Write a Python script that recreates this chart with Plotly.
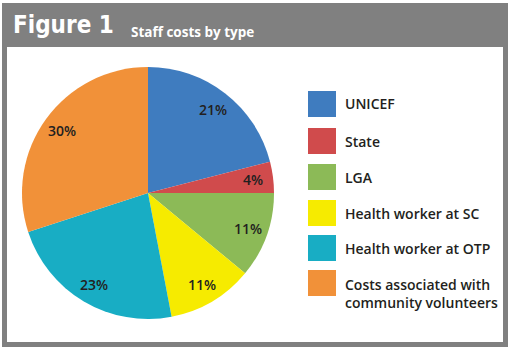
import math
import plotly.graph_objects as go

W, H = 514, 352

labels = ["UNICEF", "State", "LGA", "Health worker at SC", "Health worker at OTP",
          "Costs associated with<br>community volunteers"]
values = [21, 4, 11, 11, 23, 30]
colors = ["#3f7cbf", "#d04b4c", "#8cba57", "#f6eb00", "#18adc4", "#f19139"]

title_main = "Figure 1"
title_sub = "Staff costs by type"

GREY = "#808080"
TXT = "#231f20"


def px(x):
    return x / W


def py(y):
    return 1 - y / H


cx, cy, R = 148, 193, 126

fig = go.Figure()
fig.add_trace(go.Pie(
    labels=labels, values=values, sort=False, direction="clockwise", rotation=0,
    marker=dict(colors=colors, line=dict(width=0)),
    textinfo="none", hoverinfo="label+percent", showlegend=False,
    domain=dict(x=[px(cx - R), px(cx + R)], y=[py(cy + R), py(cy - R)]),
))

shapes = [
    dict(type="rect", xref="paper", yref="paper", x0=px(2), x1=px(508), y0=py(347), y1=py(3),
         fillcolor=GREY, line=dict(width=0), layer="below"),
    dict(type="rect", xref="paper", yref="paper", x0=px(7), x1=px(503), y0=py(342), y1=py(47),
         fillcolor="white", line=dict(width=0), layer="below"),
]
annotations = [
    dict(text=title_main, xref="paper", yref="paper", x=px(11), y=py(25), xanchor="left", yanchor="middle",
         showarrow=False, font=dict(family="DejaVu Sans Condensed, DejaVu Sans", size=24, color="white",
                                    weight="bold")),
    dict(text=title_sub, xref="paper", yref="paper", x=px(129), y=py(32), xanchor="left", yanchor="middle",
         showarrow=False, font=dict(family="Open Sans", size=13.5, color="white", weight="bold")),
]

# percentage labels placed at slice mid-angles
total = sum(values)
cum = 0
for v in values:
    a = math.radians(360 * (cum + v / 2) / total)
    cum += v
    rr = 0.84 * R
    annotations.append(dict(
        text=f"{v}%", xref="paper", yref="paper",
        x=px(cx + rr * math.sin(a)), y=py(cy - rr * math.cos(a)),
        xanchor="center", yanchor="middle", showarrow=False,
        font=dict(family="Open Sans", size=14, color=TXT, weight=600)))

# legend drawn as squares + labels
sq_top = [91, 128, 164, 200, 235, 270]
for lab, col, t in zip(labels, colors, sq_top):
    shapes.append(dict(type="rect", xref="paper", yref="paper", x0=px(308), x1=px(336),
                       y0=py(t + 26), y1=py(t), fillcolor=col, line=dict(width=0)))
    ymid = t + 13
    if "<br>" in lab:
        ymid += 10
    annotations.append(dict(text=lab, xref="paper", yref="paper", x=px(343), y=py(ymid),
                            xanchor="left", yanchor="middle", align="left", showarrow=False,
                            font=dict(family="Open Sans", size=14, color=TXT, weight=600)))

fig.update_layout(
    width=W, height=H, margin=dict(l=0, r=0, t=0, b=0),
    paper_bgcolor="white", plot_bgcolor="white",
    shapes=shapes, annotations=annotations,
)

fig.write_html("out.html")
